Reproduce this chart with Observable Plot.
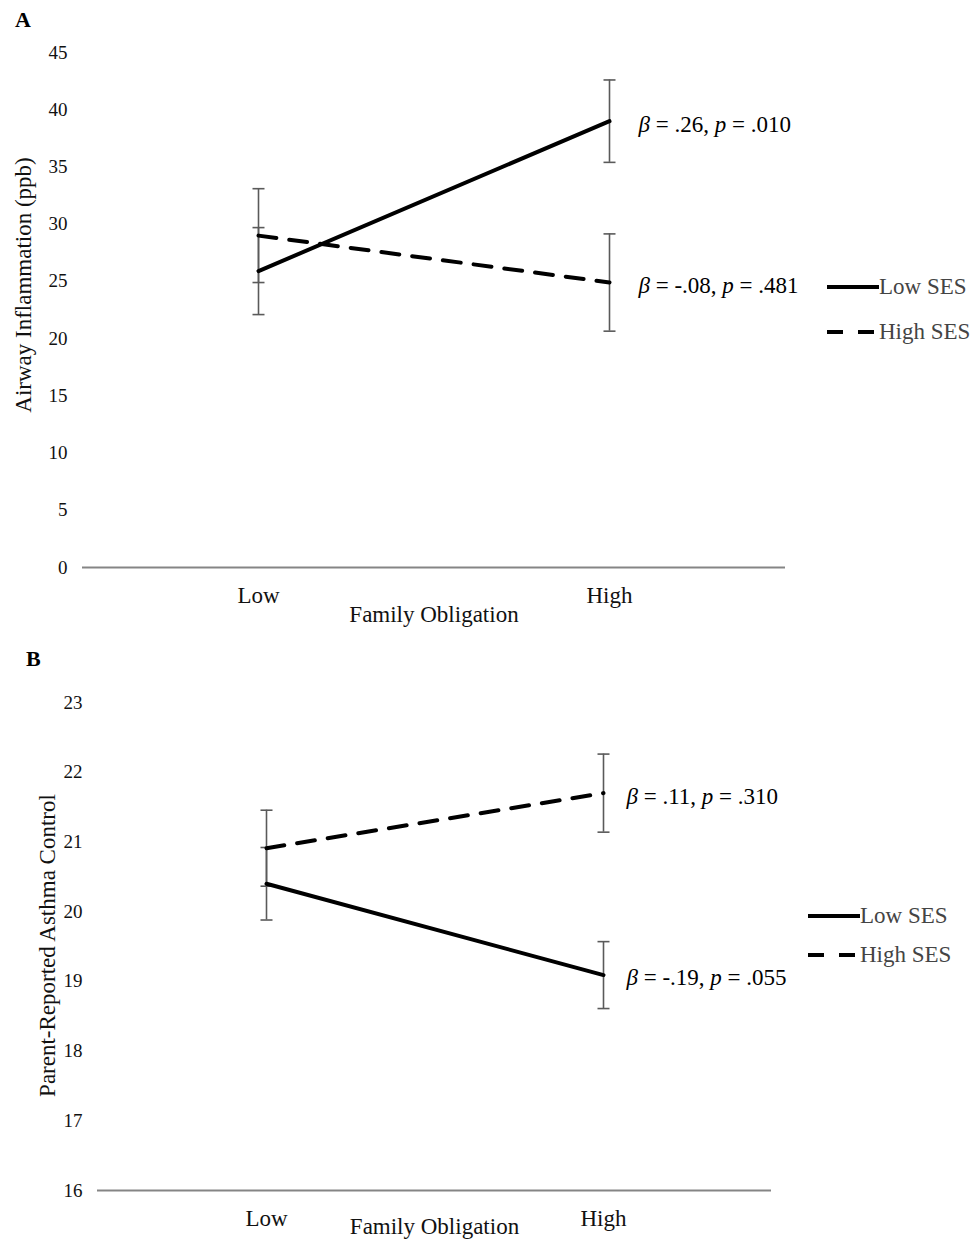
<!DOCTYPE html>
<html><head><meta charset="utf-8">
<script src="https://cdn.jsdelivr.net/npm/d3@7"></script>
<script src="https://cdn.jsdelivr.net/npm/@observablehq/plot@0.6"></script>
<style>
body{margin:0;background:#fff;font-family:"Liberation Serif","Times New Roman",serif;}
#wrap{position:relative;width:975px;height:1239px;overflow:hidden;}
#wrap > svg{position:absolute;left:0;}
.panel{position:absolute;font-weight:bold;line-height:1;color:#000;}
.legend{position:absolute;display:flex;align-items:center;height:24px;font-size:23px;line-height:24px;color:#444;white-space:nowrap;}
.legend svg{display:block;}
</style></head><body><div id="wrap"></div>
<script>
// ---- shared categories ----
const groups = ["Low", "High"];           // Family Obligation
const sesNames = ["Low SES", "High SES"];

// ---- Panel A: Airway Inflammation (ppb) ----
const aLowSES = [25.9, 39.0];
const aHighSES = [29.0, 24.9];
const aLowSESErr = [3.8, 3.6];
const aHighSESErr = [4.1, 4.25];
const aTicks = [0, 5, 10, 15, 20, 25, 30, 35, 40, 45];
const aAnno = ["β = .26, p = .010", "β = -.08, p = .481"]; // Low SES, High SES (at High)
const aYTitle = "Airway Inflammation (ppb)";

// ---- Panel B: Parent-Reported Asthma Control ----
const bLowSES = [20.40, 19.09];
const bHighSES = [20.91, 21.70];
const bLowSESErr = [0.52, 0.48];
const bHighSESErr = [0.545, 0.56];
const bTicks = [16, 17, 18, 19, 20, 21, 22, 23];
const bAnno = ["β = -.19, p = .055", "β = .11, p = .310"]; // Low SES, High SES (at High)
const bYTitle = "Parent-Reported Asthma Control";

const xTitle = "Family Obligation";

function rowsFor(lowVals, highVals, lowErr, highErr) {
  const rows = [];
  groups.forEach((g, i) => {
    rows.push({ses: sesNames[0], group: g, value: lowVals[i], err: lowErr[i]});
    rows.push({ses: sesNames[1], group: g, value: highVals[i], err: highErr[i]});
  });
  return rows;
}

const capSymbol = {
  draw(ctx, size) {
    const w = Math.sqrt(size / Math.PI);
    ctx.moveTo(-w, 0);
    ctx.lineTo(w, 0);
  }
};

function panel(cfg) {
  const rows = rowsFor(cfg.low, cfg.high, cfg.lowErr, cfg.highErr);
  const caps = rows.flatMap(d => [{group: d.group, v: d.value - d.err}, {group: d.group, v: d.value + d.err}]);
  const annoRows = [
    {group: groups[1], value: cfg.low[1], label: cfg.anno[0]},
    {group: groups[1], value: cfg.high[1], label: cfg.anno[1]}
  ];
  return Plot.plot({
    width: 975,
    height: cfg.height,
    marginLeft: cfg.ml,
    marginRight: cfg.mr,
    marginTop: cfg.mt,
    marginBottom: cfg.mb,
    x: {type: "point", domain: groups, padding: 0.5},
    y: {domain: cfg.domain},
    style: {fontFamily: "'Liberation Serif', 'Times New Roman', serif", fontSize: "19px", color: "#111", background: "white", overflow: "visible"},
    marks: [
      Plot.ruleY([cfg.domain[0]], {stroke: "#858585", strokeWidth: 2}),
      Plot.axisY({ticks: cfg.ticks, tickFormat: d => String(d), tickSize: 0, tickPadding: 15, label: null, fontSize: 19}),
      Plot.axisX({tickSize: 0, tickPadding: 19, label: null, fontSize: 23}),
      Plot.ruleX(rows, {x: "group", y1: d => d.value - d.err, y2: d => d.value + d.err, stroke: "#5a5a5a", strokeWidth: 1.6}),
      Plot.dot(caps, {x: "group", y: "v", symbol: capSymbol, r: 6, fill: "none", stroke: "#5a5a5a", strokeWidth: 1.6}),
      Plot.line(rows.filter(d => d.ses === sesNames[0]), {x: "group", y: "value", stroke: "#000", strokeWidth: 4}),
      Plot.line(rows.filter(d => d.ses === sesNames[1]), {x: "group", y: "value", stroke: "#000", strokeWidth: 4, strokeDasharray: "18,13"}),
      Plot.text(annoRows, {x: "group", y: "value", text: "label", dx: cfg.annoDx, dy: 3, textAnchor: "start", fontSize: 23, fill: "#000"}),
      Plot.text([xTitle], {text: d => d, frameAnchor: "bottom", lineAnchor: "top", dy: cfg.xTitleDy, fontSize: 23, fill: "#111"}),
      Plot.text([cfg.yTitle], {text: d => d, frameAnchor: "left", textAnchor: "middle", lineAnchor: "middle", rotate: -90, dx: cfg.yTitleDx, dy: cfg.yTitleDy, fontSize: 23, fill: "#111"})
    ]
  });
}

function italicize(svg) {
  const ns = "http://www.w3.org/2000/svg";
  svg.querySelectorAll("text").forEach(t => {
    const s = t.textContent;
    const m = s.match(/^(β)(.*?, )(p)(.*)$/);
    if (!m) return;
    while (t.firstChild) t.removeChild(t.firstChild);
    [[m[1], true], [m[2], false], [m[3], true], [m[4], false]].forEach(([str, it]) => {
      const ts = document.createElementNS(ns, "tspan");
      ts.textContent = str;
      if (it) ts.setAttribute("font-style", "italic");
      t.appendChild(ts);
    });
  });
}

const wrap = document.getElementById("wrap");

const svgA = panel({
  height: 640, ml: 82, mr: 190, mt: 52, mb: 73, domain: [0, 45], ticks: aTicks,
  low: aLowSES, high: aHighSES, lowErr: aLowSESErr, highErr: aHighSESErr,
  anno: aAnno, annoDx: 29, xTitleDy: 38, yTitle: aYTitle, yTitleDx: -59, yTitleDy: -25
});
svgA.style.top = "0px";
italicize(svgA);
wrap.appendChild(svgA);

const svgB = panel({
  height: 599, ml: 97, mr: 204, mt: 62, mb: 49, domain: [16, 23], ticks: bTicks,
  low: bLowSES, high: bHighSES, lowErr: bLowSESErr, highErr: bHighSESErr,
  anno: bAnno, annoDx: 23, xTitleDy: 27, yTitle: bYTitle, yTitleDx: -50, yTitleDy: -1
});
svgB.style.top = "640px";
italicize(svgB);
wrap.appendChild(svgB);

// panel letters
function letter(txt, left, top, size) {
  const d = document.createElement("div");
  d.className = "panel";
  d.textContent = txt;
  d.style.left = left + "px";
  d.style.top = top + "px";
  d.style.fontSize = size + "px";
  wrap.appendChild(d);
}
letter("A", 15, 9, 22);
letter("B", 26, 648, 22);

// legends
function legendRow(name, dashed, left, centerY) {
  const d = document.createElement("div");
  d.className = "legend";
  d.style.left = left + "px";
  d.style.top = (centerY - 12) + "px";
  const w = 52;
  d.innerHTML = `<svg width="${w}" height="10"><line x1="0" x2="${w}" y1="5" y2="5" stroke="#000" stroke-width="4" ${dashed ? 'stroke-dasharray="16,15"' : ''}/></svg><span>${name}</span>`;
  wrap.appendChild(d);
}
legendRow(sesNames[0], false, 827, 287);
legendRow(sesNames[1], true, 827, 332);
legendRow(sesNames[0], false, 808, 916);
legendRow(sesNames[1], true, 808, 955);
</script></body></html>
